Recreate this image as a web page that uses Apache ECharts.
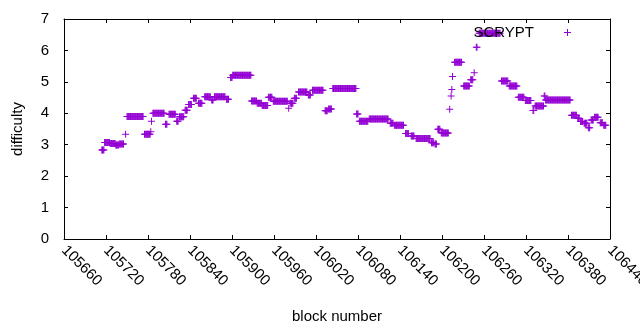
<!DOCTYPE html>
<html>
<head>
<meta charset="utf-8">
<script src="https://cdn.jsdelivr.net/npm/echarts@6/dist/echarts.min.js"></script>
<style>
  html, body { margin: 0; padding: 0; background: #fff; }
  #chart { width: 640px; height: 330px; }
</style>
</head>
<body>
<div id="chart"></div>
<script>
// runs of constant difficulty: first block, last block, value
const runStart = [105714,105718,105726,105734,105739,105748,105750,105775,105784,105785,
  105787,105805,105810,105821,105825,105833,105838,105845,105852,105861,
  105871,105875,105892,105898,105901,105928,105936,105943,105952,105959,
  105981,105983,105989,105995,106009,106015,106033,106038,106044,106078,
  106082,106096,106126,106132,106148,106156,106163,106185,106190,106194,
  106199,106211,106213,106214,106215,106218,106231,106241,106246,106249,
  106253,106285,106296,106309,106319,106330,106333,106346,106348,106385,
  106394,106398,106403,106409,106413,106418,106426,106431]
const runEnd = [105717,105725,105733,105738,105745,105748,105773,105783,105784,105785,
  105803,105807,105819,105823,105831,105836,105842,105849,105857,105869,
  105873,105890,105895,105900,105927,105935,105942,105951,105957,105979,
  105981,105987,105992,106007,106012,106030,106036,106042,106077,106080,
  106094,106123,106130,106145,106152,106160,106183,106188,106192,106197,
  106209,106211,106213,106214,106215,106228,106239,106244,106246,106250,
  106283,106294,106307,106317,106327,106331,106345,106347,106383,106392,
  106396,106401,106407,106411,106416,106423,106429,106434]
const runValue = [2.83,3.07,3.04,2.99,3.02,3.33,3.90,3.33,3.41,3.75,
  4.00,3.65,3.97,3.75,3.89,4.10,4.28,4.48,4.32,4.53,
  4.42,4.53,4.45,5.14,5.21,4.39,4.32,4.25,4.51,4.38,
  4.16,4.32,4.48,4.68,4.58,4.73,4.08,4.14,4.79,3.98,
  3.75,3.82,3.68,3.62,3.36,3.28,3.20,3.06,3.02,3.49,
  3.37,4.13,4.55,4.76,5.17,5.62,4.87,5.07,5.29,6.10,
  6.55,5.03,4.87,4.51,4.41,4.09,4.23,4.55,4.42,3.94,
  3.84,3.74,3.68,3.54,3.79,3.87,3.70,3.62]

const seriesName = 'SCRYPT'
const xMin = 105660
const xMax = 106440
const xStep = 60

// one point per block
const points = []
runStart.forEach((s, i) => {
  for (let b = s; b <= runEnd[i]; b++) points.push([b, runValue[i]])
})

const font = 'Liberation Sans, Arial, sans-serif'
const plus = 'path://M3,0H4V3H7V4H4V7H3V4H0V3H3Z'

const xCommon = {
  type: 'value',
  min: xMin,
  max: xMax,
  interval: xStep,
  splitLine: { show: false },
  axisLine: { show: true, onZero: false, lineStyle: { color: '#000', width: 1 } },
  axisTick: { show: true, inside: true, length: 4, lineStyle: { color: '#000' } }
}
const yCommon = {
  type: 'value',
  min: 0,
  max: 7,
  interval: 1,
  splitLine: { show: false },
  axisLine: { show: true, lineStyle: { color: '#000', width: 1 } },
  axisTick: { show: true, inside: true, length: 4, lineStyle: { color: '#000' } }
}

const chart = echarts.init(document.getElementById('chart'), null, { renderer: 'canvas' })
chart.setOption({
  animation: false,
  grid: { left: 64, right: 30, top: 19, bottom: 91, outerBoundsMode: 'none', containLabel: false },
  legend: {
    show: true,
    right: 64,
    top: 20,
    align: 'right',
    itemWidth: 7,
    itemHeight: 7,
    icon: plus,
    data: [seriesName],
    textStyle: { fontFamily: font, fontSize: 15, color: '#000', padding: [0, 25, 0, 0] }
  },
  xAxis: [
    Object.assign({}, xCommon, {
      position: 'bottom',
      name: 'block number',
      nameLocation: 'middle',
      nameGap: 70,
      nameTextStyle: { fontFamily: font, fontSize: 15, color: '#000' },
      axisLabel: {
        rotate: -45, margin: 9, fontFamily: font, fontSize: 15, color: '#000',
        showMaxLabel: true, formatter: (v) => String(v)
      }
    }),
    Object.assign({}, xCommon, { position: 'top', axisLabel: { show: false } })
  ],
  yAxis: [
    Object.assign({}, yCommon, {
      position: 'left',
      name: 'difficulty',
      nameLocation: 'middle',
      nameGap: 39,
      nameTextStyle: { fontFamily: font, fontSize: 15, color: '#000' },
      axisLabel: { margin: 15, fontFamily: font, fontSize: 15, color: '#000' }
    }),
    Object.assign({}, yCommon, { position: 'right', axisLabel: { show: false } })
  ],
  series: [
    {
      name: seriesName,
      type: 'scatter',
      symbol: plus,
      symbolSize: 7,
      itemStyle: { color: '#9400d3', opacity: 1 },
      data: points
    }
  ]
})
</script>
</body>
</html>
